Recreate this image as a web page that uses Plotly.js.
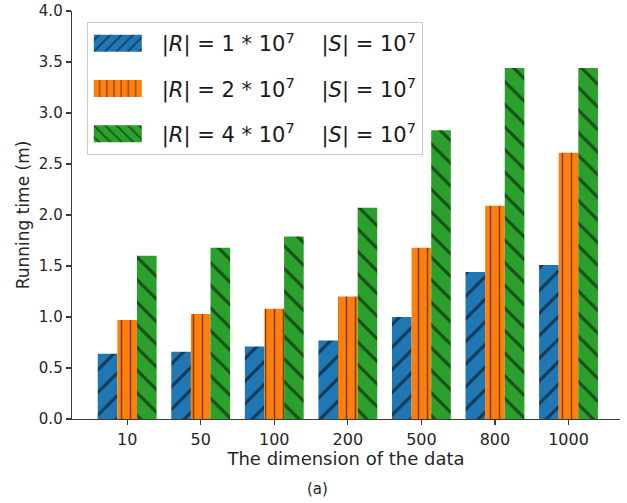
<!DOCTYPE html>
<html>
<head>
<meta charset="utf-8">
<script src="https://cdn.plot.ly/plotly-3.0.1.min.js"></script>
<style>html,body{margin:0;padding:0;background:#fff;}#chart{width:627px;height:503px;}</style>
</head>
<body>
<div id="chart"></div>
<script>
const categories = ['10', '50', '100', '200', '500', '800', '1000'];
const seriesNames = [
  '|<i>R</i>| = 1 * 10<sup>7</sup>    |<i>S</i>| = 10<sup>7</sup>',
  '|<i>R</i>| = 2 * 10<sup>7</sup>    |<i>S</i>| = 10<sup>7</sup>',
  '|<i>R</i>| = 4 * 10<sup>7</sup>    |<i>S</i>| = 10<sup>7</sup>'
];
const r1Values = [0.64, 0.66, 0.71, 0.77, 1.00, 1.44, 1.51];
const r2Values = [0.97, 1.03, 1.08, 1.20, 1.68, 2.09, 2.61];
const r4Values = [1.60, 1.68, 1.79, 2.07, 2.83, 3.44, 3.44];
const yTicks = [0, 0.5, 1.0, 1.5, 2.0, 2.5, 3.0, 3.5, 4.0];

const colors = ['#1f77b4', '#ff7f0e', '#2ca02c'];
const hatches = [
  {shape: '/', size: 16, solidity: 0.19},
  {shape: '|', size: 9, solidity: 0.17},
  {shape: '\\', size: 16, solidity: 0.19}
];
const allValues = [r1Values, r2Values, r4Values];

const traces = allValues.map((vals, i) => ({
  type: 'bar',
  name: seriesNames[i],
  legendgroup: 'g' + i,
  x: categories,
  y: vals,
  marker: {
    color: colors[i],
    line: {width: 0},
    pattern: {shape: hatches[i].shape, size: hatches[i].size, solidity: hatches[i].solidity, fgcolor: '#000000', fillmode: 'overlay'}
  },
  hoverinfo: 'skip'
}));

const axisColor = '#3a3a3a';
const layout = {
  width: 627, height: 503,
  margin: {l: 72, r: 7, t: 11, b: 84},
  paper_bgcolor: '#ffffff', plot_bgcolor: '#ffffff',
  font: {family: 'DejaVu Sans, sans-serif', color: '#262626'},
  barmode: 'group', bargap: 0.2, bargroupgap: 0,
  showlegend: true,
  legend: {
    x: 0.027, y: 0.973, xanchor: 'left', yanchor: 'top',
    bgcolor: '#ffffff', bordercolor: '#cccccc', borderwidth: 1,
    font: {size: 21, color: '#1a1a1a'},
    itemwidth: 64, tracegroupgap: 15,
    traceorder: 'grouped'
  },
  xaxis: {
    type: 'category',
    range: [-0.75, 6.7],
    tickvals: categories,
    ticktext: categories,
    showline: true, linecolor: axisColor, linewidth: 1.3,
    ticks: 'outside', ticklen: 5, tickwidth: 1.2, tickcolor: axisColor,
    showgrid: false, zeroline: false,
    tickfont: {size: 16},
    title: {text: 'The dimension of the data', font: {size: 18}, standoff: 4}
  },
  yaxis: {
    range: [0, 4.0],
    tickvals: yTicks,
    tickformat: '.1f',
    showline: true, linecolor: axisColor, linewidth: 1.3,
    ticks: 'outside', ticklen: 5, tickwidth: 1.2, tickcolor: axisColor,
    showgrid: false, zeroline: false,
    tickfont: {size: 15},
    title: {text: 'Running time (m)', font: {size: 17}, standoff: 5}
  },
  annotations: [{
    text: '(a)', xref: 'paper', yref: 'paper', x: 0.448, y: -0.172,
    xanchor: 'center', yanchor: 'middle', showarrow: false,
    font: {size: 15, color: '#262626'}
  }]
};

Plotly.newPlot('chart', traces, layout, {displayModeBar: false, staticPlot: true}).then(() => {
  document.querySelectorAll('.legend .legendpoints path').forEach(p => {
    p.setAttribute('d', 'M17,8.5H-31V-8.5H17Z');
  });
});
</script>
</body>
</html>
